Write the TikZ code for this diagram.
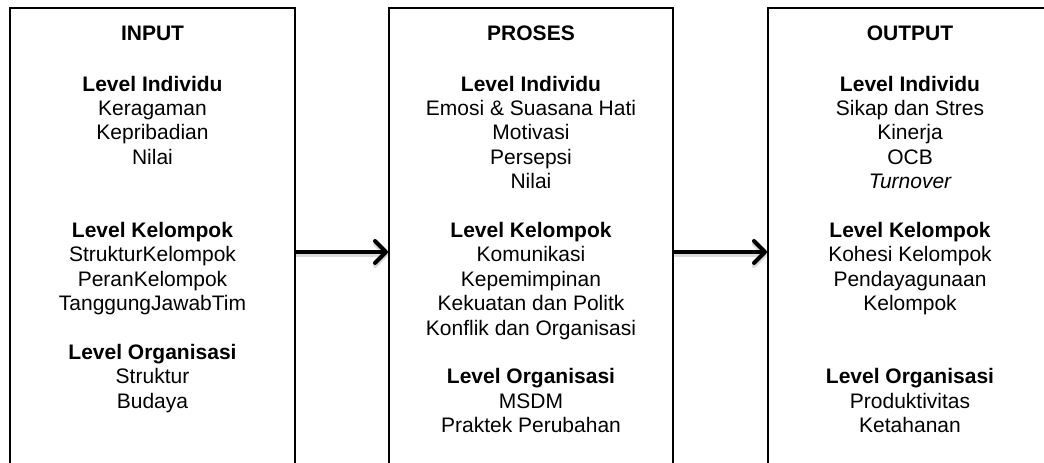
\documentclass[tikz,border=0pt]{standalone}
\usepackage{fontspec}
\setmainfont{Liberation Sans}
\usetikzlibrary{arrows.meta}

\begin{document}
\begin{tikzpicture}[x=1pt, y=-1pt,
  box/.style={draw, line width=2pt, minimum height=488pt, inner sep=0pt},
  ttl/.style={anchor=base, font=\fontsize{21}{24}\selectfont\bfseries},
  txt/.style={anchor=base, font=\fontsize{21}{24}\selectfont},
  arr/.style={-{Straight Barb[length=11pt,width=22pt,round]}, line width=4pt},
  shade/.style={arr, draw=gray!30}
]
  \useasboundingbox (0,0) rectangle (1044,463);
  \clip (0,0) rectangle (1044,463);

  % the three boxes, open at the bottom
  \node[box, minimum width=285pt] (inp) at (152.5,252) {};
  \node[box, minimum width=284pt] (pro) at (531,252) {};
  \node[box, minimum width=284pt] (out) at (910,252) {};

  \node[ttl] (inpT) at (152.5,40) {INPUT};
  \node[ttl] (proT) at (531,40) {PROSES};
  \node[ttl] (outT) at (910,40) {OUTPUT};

  % input
  \foreach \i/\t in {0/{\bfseries Level Individu}, 1/Keragaman, 2/Kepribadian, 3/Nilai,
      6/{\bfseries Level Kelompok}, 7/StrukturKelompok, 8/PeranKelompok, 9/TanggungJawabTim,
      11/{\bfseries Level Organisasi}, 12/Struktur, 13/Budaya}
    \node[txt] (inp-\i) at (152.5, 91+24.4*\i) {\t};

  % proses
  \foreach \i/\t in {0/{\bfseries Level Individu}, 1/{Emosi \& Suasana Hati}, 2/Motivasi, 3/Persepsi, 4/Nilai,
      6/{\bfseries Level Kelompok}, 7/Komunikasi, 8/Kepemimpinan, 9/{Kekuatan dan Politk}, 10/{Konflik dan Organisasi},
      12/{\bfseries Level Organisasi}, 13/MSDM, 14/{Praktek Perubahan}}
    \node[txt] (pro-\i) at (531, 91+24.4*\i) {\t};

  % output
  \foreach \i/\t in {0/{\bfseries Level Individu}, 1/{Sikap dan Stres}, 2/Kinerja, 3/OCB, 4/{\itshape Turnover},
      6/{\bfseries Level Kelompok}, 7/{Kohesi Kelompok}, 8/Pendayagunaan, 9/Kelompok,
      12/{\bfseries Level Organisasi}, 13/Produktivitas, 14/Ketahanan}
    \node[txt] (out-\i) at (910, 91+24.4*\i) {\t};

  \draw[shade] ([yshift=-3pt]inp.east) -- ([yshift=-3pt]pro.west);
  \draw[shade] ([yshift=-3pt]pro.east) -- ([yshift=-3pt]out.west);
  \draw[arr] (inp) -- (pro);
  \draw[arr] (pro) -- (out);
\end{tikzpicture}
\end{document}
